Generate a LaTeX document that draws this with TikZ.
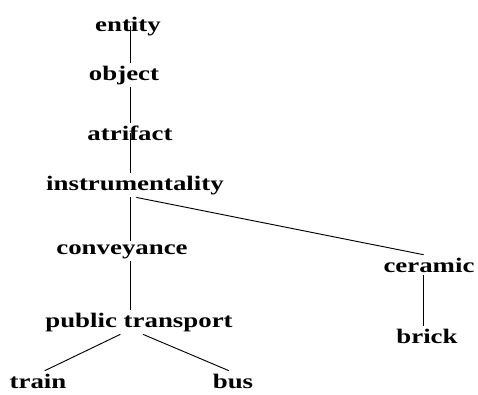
\documentclass[tikz,border=0pt]{standalone}
\usepackage{fontspec}
\newfontfamily\treefont{Liberation Serif}[FakeStretch=1.3]
\begin{document}
\begin{tikzpicture}[x=0.75pt,y=-0.75pt,
    word/.style={anchor=base,inner sep=2pt,font=\treefont\bfseries\fontsize{15.5}{18}\selectfont},
    branch/.style={line width=0.7pt}]
        \useasboundingbox (0,0) rectangle (478,394);
        %% words of the tree
        \node[word] (entity) at (128,31) {entity};
        \node[word] (object) at (124,80) {object};
        \node[word] (atrifact) at (130,140) {atrifact};
        \node[word] (instr) at (135,190) {instrumentality};
        \node[word] (convey) at (122,254) {conveyance};
        \node[word] (ceramic) at (429,272) {ceramic};
        \node[word] (ptrans) at (139,327) {public transport};
        \node[word] (brick) at (427,343) {brick};
        \node[word] (train) at (38,388) {train};
        \node[word] (bus) at (233,388) {bus};
        \coordinate (trunk) at (130,0);
        %% main trunk
        \draw[branch] (entity.center -| trunk) -- (object.north -| trunk);
        \draw[branch] (object.south -| trunk) -- (atrifact.north -| trunk);
        \draw[branch] (atrifact.center -| trunk) -- (instr.north -| trunk);
        \draw[branch] (instr.south -| trunk) -- (convey.north -| trunk);
        \draw[branch] (convey.south -| trunk) -- (ptrans.north -| trunk);
        %% side branches
        \draw[branch] ([xshift=1pt]instr.south) -- ([xshift=-4pt]ceramic.north);
        \draw[branch] ([xshift=-4pt]ceramic.south) -- ([xshift=-4pt]ceramic.south |- brick.north);
        \draw[branch] ([xshift=-14pt]ptrans.south) -- ([xshift=5pt]train.north);
        \draw[branch] ([xshift=3pt]ptrans.south) -- ([xshift=-3pt]bus.north);
    \end{tikzpicture}
\end{document}
